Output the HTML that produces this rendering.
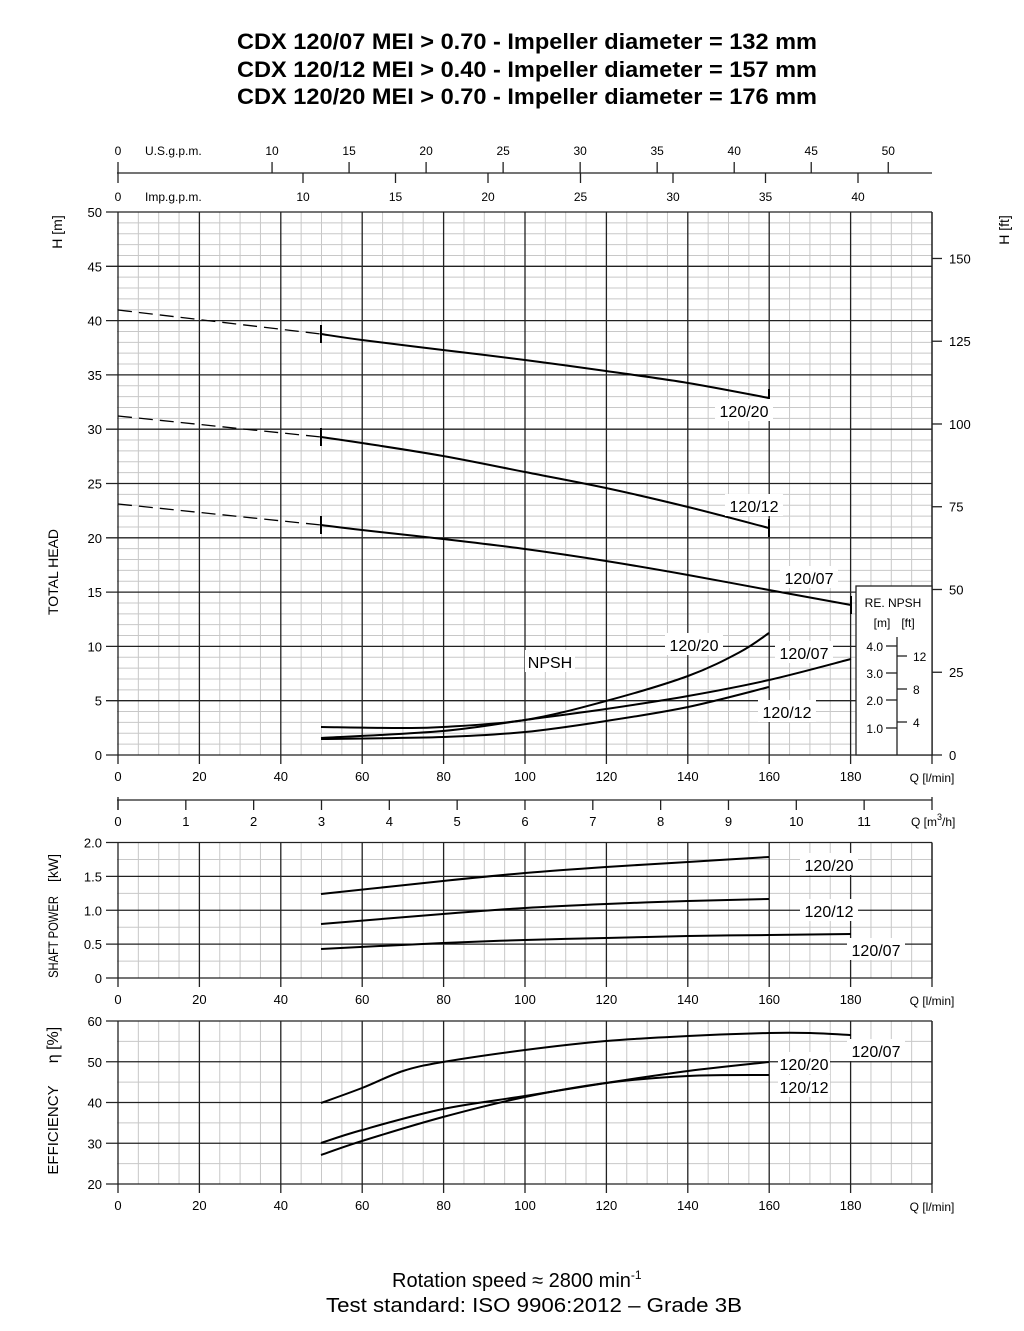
<!DOCTYPE html>
<html><head><meta charset="utf-8">
<style>
html,body{margin:0;padding:0;background:#fff;}
body{width:1024px;height:1331px;overflow:hidden;}
svg{display:block;font-family:"Liberation Sans",Arial,sans-serif;}
</style></head>
<body>
<svg id="s" width="1024" height="1331" viewBox="0 0 1024 1331" xmlns="http://www.w3.org/2000/svg">
<text x="237" y="49" font-size="22" font-weight="bold" textLength="580" lengthAdjust="spacingAndGlyphs">CDX 120/07 MEI &gt; 0.70 - Impeller diameter = 132 mm</text>
<text x="237" y="77" font-size="22" font-weight="bold" textLength="580" lengthAdjust="spacingAndGlyphs">CDX 120/12 MEI &gt; 0.40 - Impeller diameter = 157 mm</text>
<text x="237" y="104" font-size="22" font-weight="bold" textLength="580" lengthAdjust="spacingAndGlyphs">CDX 120/20 MEI &gt; 0.70 - Impeller diameter = 176 mm</text>
<text x="392" y="1287" font-size="20">Rotation speed ≈ 2800 min<tspan font-size="12" dy="-8">-1</tspan></text>
<text x="326" y="1312" font-size="20" textLength="416" lengthAdjust="spacingAndGlyphs">Test standard: ISO 9906:2012 – Grade 3B</text>
</svg>
<script>
(function(){
var s=document.getElementById('s');var o='';
function qx(q){return 118+q*4.07;}
function L(x1,y1,x2,y2,c,w,extra){o+='<line x1="'+x1+'" y1="'+y1+'" x2="'+x2+'" y2="'+y2+'" stroke="'+c+'" stroke-width="'+w+'" '+(extra||'')+'/>';}
function T(x,y,t,sz,anc,extra){o+='<text x="'+x+'" y="'+y+'" font-size="'+(sz||13)+'" text-anchor="'+(anc||'middle')+'" '+(extra||'')+'>'+t+'</text>';}
function P(pts,w,extra){var d='M'+pts.map(function(p){return p[0]+','+p[1];}).join(' L');o+='<path d="'+d+'" fill="none" stroke="#000" stroke-width="'+(w||2)+'" stroke-linejoin="round" '+(extra||'')+'/>';}
function S(pts,w){
 var d='M'+pts[0][0]+','+pts[0][1];
 for(var i=0;i<pts.length-1;i++){var p0=pts[i-1]||pts[i],p1=pts[i],p2=pts[i+1],p3=pts[i+2]||p2;
 d+=' C'+(p1[0]+(p2[0]-p0[0])/6)+','+(p1[1]+(p2[1]-p0[1])/6)+' '+(p2[0]-(p3[0]-p1[0])/6)+','+(p2[1]-(p3[1]-p1[1])/6)+' '+p2[0]+','+p2[1];}
 o+='<path d="'+d+'" fill="none" stroke="#000" stroke-width="'+(w||2)+'"/>';}
function lab(x,y,t,w){o+='<rect x="'+(x-w/2)+'" y="'+(y-12)+'" width="'+w+'" height="22" fill="#fff"/>';T(x,y+6,t,16);}
function grid(top,bot,nMinorH,nMajorH){
 var ys=(bot-top)/nMinorH;
 for(var q=0;q<=200;q+=5){if(q%20)L(qx(q),top,qx(q),bot,'#c8c8c8',1);}
 for(var i=0;i<=nMinorH;i++){if(i%(nMinorH/nMajorH))L(117,top+i*ys,932,top+i*ys,'#c8c8c8',1);}
 for(var q=0;q<=200;q+=20){L(qx(q),top,qx(q),bot,'#222',1.3);}
 for(var i=0;i<=nMajorH;i++){var y=top+i*(bot-top)/nMajorH;L(106,y,932,y,'#222',1.3);}
 L(932,top,932,bot,'#222',1.3);
 for(var q=0;q<=180;q+=20){L(qx(q),bot,qx(q),bot+9,'#222',1.3);T(qx(q),bot+26,q,13);}
 L(932,bot,932,bot+9,'#222',1.3);T(932,bot+27,'Q [l/min]',12,'middle');
}
L(117,173,932,173,'#222',1.3);L(118,162,118,183,'#222',1.3);
T(118,155,'0',12);T(145,155,'U.S.g.p.m.',12,'start');T(118,201,'0',12);T(145,201,'Imp.g.p.m.',12,'start');
[10,15,20,25,30,35,40,45,50].forEach(function(g){var x=118+g*15.405;L(x,162,x,173,'#222',1.3);T(x,155,g,12);});
[10,15,20,25,30,35,40].forEach(function(g){var x=118+g*18.5;L(x,173,x,183,'#222',1.3);T(x,201,g,12);});
grid(212,755,50,10);
for(var h=0;h<=50;h+=5){T(102,755-h*10.86+5,h,13,'end');}
[0,25,50,75,100,125,150].forEach(function(f){var y=755-f*0.3048*10.86;L(932,y,942,y,'#222',1.3);T(949,y+5,f,13,'start');});
T(0,0,'H [m]',14,'middle','transform="translate(62,232) rotate(-90)"');
T(0,0,'TOTAL HEAD',14,'middle','transform="translate(58,572) rotate(-90)"');
T(0,0,'H [ft]',14,'middle','transform="translate(1009,230) rotate(-90)"');
P([[118,310],[321,334]],1.3,'stroke-dasharray="14,7"');
P([[118,416],[321,437]],1.3,'stroke-dasharray="14,7"');
P([[118,504],[321,525]],1.3,'stroke-dasharray="14,7"');
S([[321,334],[362,340],[443,350],[525,360],[606,371],[688,383],[769,398]]);
S([[321,437],[362,443],[443,456],[525,472],[606,488],[688,507],[769,528]]);
S([[321,525],[362,530],[443,539],[525,549],[606,561],[688,575],[769,590],[851,605]]);
[[321,334],[769,398],[321,437],[769,528],[321,525],[851,605]].forEach(function(p){L(p[0],p[1]-9,p[0],p[1]+9,'#000',2);});
lab(744,411,'120/20',58);lab(754,506,'120/12',58);lab(809,578,'120/07',58);
o+='<rect x="856" y="586" width="76" height="169" fill="#fff" stroke="#222" stroke-width="1.3"/>';
T(893,607,'RE. NPSH',12);T(882,627,'[m]',12);T(908,627,'[ft]',12);
L(897,637,897,755,'#222',1.3);
[[4,646],[3,673],[2,700],[1,728]].forEach(function(a){L(886,a[1],897,a[1],'#222',1.3);T(883,a[1]+5,a[0].toFixed(1),12,'end');});
[[12,656],[8,689],[4,722]].forEach(function(a){L(897,a[1],907,a[1],'#222',1.3);T(913,a[1]+5,a[0],12,'start');});
lab(550,662,'NPSH',50);lab(694,645,'120/20',58);lab(804,653,'120/07',58);lab(787,712,'120/12',58);
S([[321,727],[400,728],[443,727],[525,720],[606,701],[688,676],[740,652],[769,633]]);
S([[321,738],[443,731],[525,720],[606,709],[688,696],[769,680],[851,659]]);
S([[321,739],[443,737],[525,732],[606,721],[688,707],[769,687]]);
L(117,800,932,800,'#222',1.3);L(118,797,118,810,'#222',1.3);
for(var k=0;k<=11;k++){var x=118+k*67.83;L(x,800,x,810,'#222',1.3);T(x,826,k,13);}
L(932,797,932,810,'#222',1.3);T(911,826,'Q [m<tspan font-size="9" dy="-6">3</tspan><tspan dy="6">/h]</tspan>',12,'start');
grid(842.5,978,8,4);
['2.0','1.5','1.0','0.5','0'].forEach(function(t,i){T(102,842.5+i*33.9+5,t,13,'end');});
T(0,0,'SHAFT POWER',14,'middle','transform="translate(58,937) rotate(-90) scale(0.8,1)"');
T(0,0,'[kW]',14,'middle','transform="translate(58,868) rotate(-90)"');
S([[321,894],[443,881],[525,873],[606,867],[688,862],[769,857]]);
S([[321,924],[443,914],[525,908],[606,904],[688,901],[769,899]]);
S([[321,949],[443,943],[525,940],[606,938],[688,936],[769,935],[851,934]]);
lab(829,865,'120/20',58);lab(829,911,'120/12',58);lab(876,950,'120/07',58);
grid(1021,1184,8,4);
['60','50','40','30','20'].forEach(function(t,i){T(102,1021+i*40.75+5,t,13,'end');});
T(0,0,'EFFICIENCY',15,'middle','transform="translate(58,1130) rotate(-90)"');
T(0,0,'η  [%]',16,'middle','transform="translate(58,1045) rotate(-90)"');
S([[321,1103],[362,1088],[403,1071],[443,1062],[525,1050],[606,1041],[688,1036],[769,1033],[810,1033],[851,1035]]);
S([[321,1143],[362,1130],[443,1109],[525,1096],[606,1083],[688,1071],[769,1062]]);
S([[321,1155],[362,1141],[443,1117],[525,1097],[606,1083],[688,1076],[769,1075]]);
lab(876,1051,'120/07',58);lab(804,1064,'120/20',52);lab(804,1087,'120/12',52);
s.insertAdjacentHTML('beforeend',o);
})();
</script>
</body></html>
